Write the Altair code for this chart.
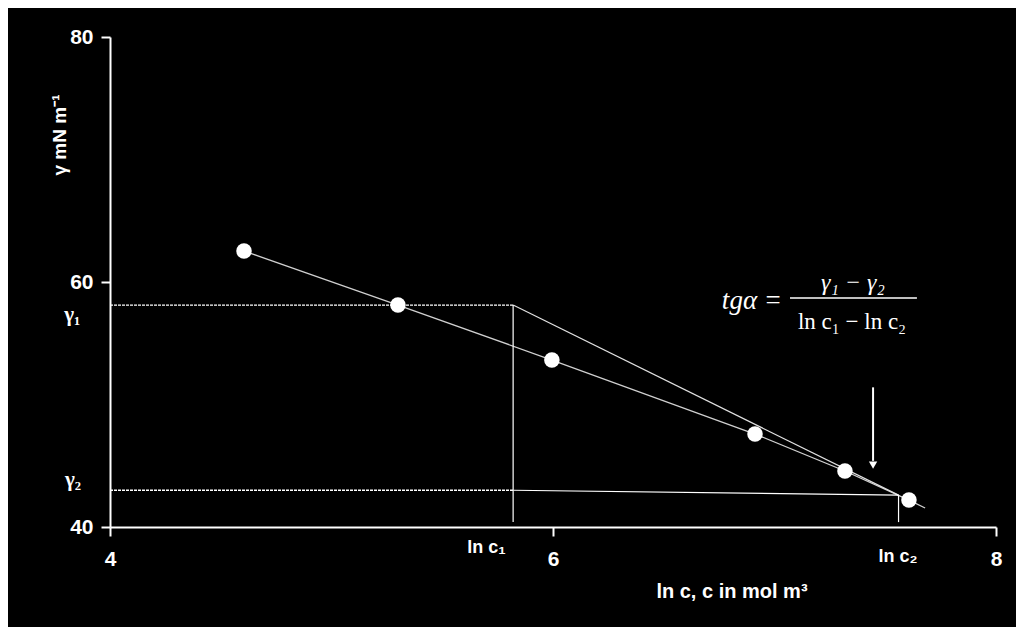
import altair as alt
import pandas as pd

# measured data points (ln c, surface tension)
ln_c = [4.605, 5.30, 5.995, 6.912, 7.318, 7.607]
gamma = [62.53, 58.12, 53.63, 47.59, 44.57, 42.20]

# curve through points with extension beyond last point
curve_x = [4.605, 5.30, 5.995, 6.912, 7.318, 7.607, 7.68]
curve_y = [62.53, 58.12, 53.63, 47.59, 44.57, 42.20, 41.55]

# axis ticks
x_ticks = [4, 6, 8]
y_ticks = [40, 60, 80]

# construction lines
lnc1, lnc2 = 5.82, 7.56
gamma1, gamma2 = 58.12, 43.0
gamma2_end = 42.6
y_bottom = 40.4

tangent_x = [lnc1, lnc2]
tangent_y = [gamma1, gamma2_end]

arrow_x = 7.445
arrow_y = [51.4, 45.4]
arrow_head_y = 45.05

frac_x = [7.07, 7.643]
frac_y = 58.69

xs = alt.Scale(domain=[4, 8], nice=False, zero=False)
ys = alt.Scale(domain=[40, 80], nice=False, zero=False)

def X(f="x"):
    return alt.X(f"{f}:Q", scale=xs, title=None)

def Y(f="y"):
    return alt.Y(f"{f}:Q", scale=ys, title=None)

pts_df = pd.DataFrame({"x": ln_c, "y": gamma})
curve_df = pd.DataFrame({"x": curve_x, "y": curve_y, "o": list(range(len(curve_x)))})

axes = alt.Chart(pts_df).mark_point(opacity=0).encode(
    x=alt.X("x:Q", scale=xs, title=None,
            axis=alt.Axis(values=x_ticks, labelPadding=12, format="d", labelFlush=False)),
    y=alt.Y("y:Q", scale=ys, title=None,
            axis=alt.Axis(values=y_ticks, labelPadding=8, format="d", labelFlush=False)),
)

curve = alt.Chart(curve_df).mark_line(color="#d0d0d0", strokeWidth=1.3).encode(
    x=X(), y=Y(), order="o:Q")

tangent = alt.Chart(pd.DataFrame({"x": tangent_x, "y": tangent_y})).mark_line(
    color="#e0e0e0", strokeWidth=1.2).encode(x=X(), y=Y())

seg_df = pd.DataFrame({
    "x": [4, 4, lnc1, lnc1, lnc2],
    "x2": [lnc1, lnc1, lnc2, lnc1, lnc2],
    "y": [gamma1, gamma2, gamma2, gamma1, gamma2_end],
    "y2": [gamma1, gamma2, gamma2_end, y_bottom, y_bottom],
    "kind": ["dot", "dot", "solid", "solid", "solid"],
})
dotted = alt.Chart(seg_df[seg_df.kind == "dot"]).mark_rule(
    color="white", strokeWidth=1.3, strokeDash=[3, 1]).encode(
    x=X(), x2="x2:Q", y=Y(), y2="y2:Q")
solid = alt.Chart(seg_df[seg_df.kind == "solid"]).mark_rule(
    color="white", strokeWidth=1.2).encode(
    x=X(), x2="x2:Q", y=Y(), y2="y2:Q")

points = alt.Chart(pts_df).mark_circle(color="white", opacity=1, size=240).encode(x=X(), y=Y())

arrow = alt.Chart(pd.DataFrame({"x": [arrow_x], "y": [arrow_y[0]], "y2": [arrow_y[1]]})).mark_rule(
    color="white", strokeWidth=2).encode(x=X(), y=Y(), y2="y2:Q")
arrow_head = alt.Chart(pd.DataFrame({"x": [arrow_x], "y": [arrow_head_y]})).mark_point(
    shape="triangle-down", filled=True, color="white", opacity=1, size=70).encode(x=X(), y=Y())

frac = alt.Chart(pd.DataFrame({"x": [frac_x[0]], "x2": [frac_x[1]], "y": [frac_y]})).mark_rule(
    color="white", strokeWidth=1.5).encode(x=X(), x2="x2:Q", y=Y())

def label(txt, x, y, font, size, weight="normal", style="normal", align="center", angle=0):
    return alt.Chart(pd.DataFrame({"x": [x], "y": [y], "t": [txt]})).mark_text(
        color="white", font=font, fontSize=size, fontWeight=weight, fontStyle=style,
        align=align, baseline="middle", angle=angle).encode(x=X(), y=Y(), text="t:N")

texts = [
    label("ln c₁", 5.70, 38.3, "Liberation Sans", 18, "bold"),
    label("ln c₂", 7.558, 37.55, "Liberation Sans", 18, "bold"),
    label("γ₁", 3.83, 57.3, "Liberation Serif", 21, "bold"),
    label("γ₂", 3.833, 43.84, "Liberation Serif", 21, "bold"),
    label("γ mN m⁻¹", 3.774, 72.0, "Liberation Sans", 19, "bold", angle=270),
    label("ln c, c in mol m³", 6.808, 34.7, "Liberation Sans", 20, "bold"),
    label("tgα =", 7.034, 58.45, "Liberation Serif", 27, style="italic", align="right"),
    label("γ₁ − γ₂", 7.354, 59.95, "Liberation Serif", 24, style="italic"),
    label("ln c₁ − ln c₂", 7.35, 56.75, "Liberation Serif", 23),
]

chart = alt.layer(axes, curve, tangent, dotted, solid, arrow, arrow_head, frac, points, *texts).properties(
    width=886, height=490,
    autosize=alt.AutoSizeParams(type="none"),
    padding={"left": 102, "top": 29, "right": 20, "bottom": 100},
    background="black",
).configure_view(stroke=None).configure_axis(
    grid=False, tickSize=9, tickWidth=2, domainWidth=2, domainColor="white",
    tickColor="white", labelColor="white", labelFont="Liberation Sans",
    labelFontWeight="bold", labelFontSize=21,
)

chart.save("out.html", embed_options={"renderer": "svg", "actions": False})
